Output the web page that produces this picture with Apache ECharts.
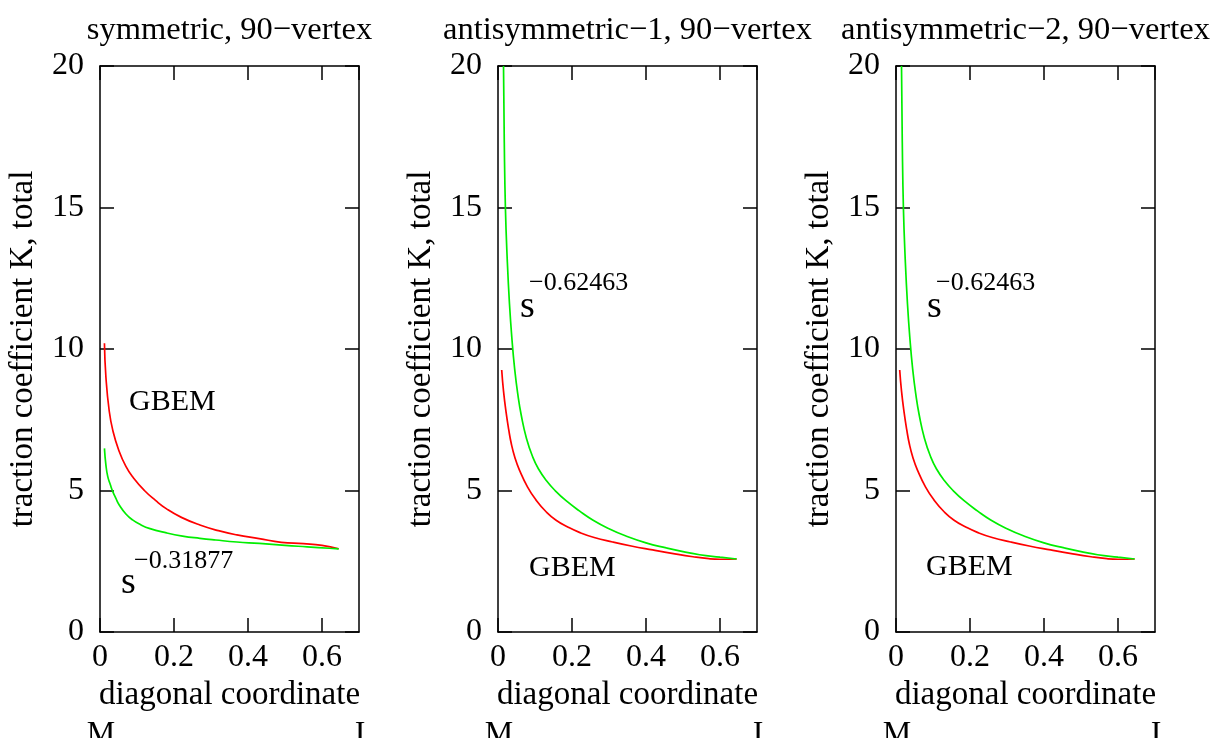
<!DOCTYPE html>
<html>
<head>
<meta charset="utf-8">
<script src="https://cdn.jsdelivr.net/npm/echarts@6/dist/echarts.min.js"></script>
<style>
  html, body { margin: 0; padding: 0; background: #fff; }
  #eChart { width: 1216px; height: 738px; }
</style>
</head>
<body>
<div id="eChart"></div>
<script>
var titles = ['symmetric, 90\u2212vertex', 'antisymmetric\u22121, 90\u2212vertex', 'antisymmetric\u22122, 90\u2212vertex'];
var exponents = ['\u22120.31877', '\u22120.62463', '\u22120.62463'];
var xName = 'diagonal coordinate';
var yName = 'traction coefficient K, total';

// symmetric panel
var symGbemX = [0.012, 0.016, 0.025, 0.035, 0.05, 0.07, 0.09, 0.12, 0.15, 0.18, 0.22, 0.27, 0.32, 0.37, 0.43, 0.49, 0.55, 0.60, 0.645];
var symGbemK = [10.2, 9.0, 7.8, 7.1, 6.45, 5.85, 5.45, 5.0, 4.65, 4.35, 4.05, 3.78, 3.58, 3.43, 3.30, 3.17, 3.12, 3.06, 2.94];
var symFitX = [0.012, 0.016, 0.021, 0.028, 0.034, 0.043, 0.052, 0.07, 0.088, 0.11, 0.133, 0.18, 0.223, 0.27, 0.313, 0.37, 0.431, 0.5, 0.56, 0.62, 0.645];
var symFitK = [6.49, 5.9, 5.49, 5.2, 4.98, 4.72, 4.49, 4.17, 3.96, 3.79, 3.66, 3.50, 3.39, 3.31, 3.25, 3.18, 3.13, 3.06, 3.01, 2.96, 2.94];

// antisymmetric-1 panel
var anti1GbemX = [0.010, 0.015, 0.022, 0.029, 0.036, 0.046, 0.058, 0.08, 0.103, 0.13, 0.157, 0.19, 0.22, 0.26, 0.31, 0.36, 0.418, 0.47, 0.527, 0.57, 0.60, 0.645];
var anti1GbemK = [9.26, 8.5, 7.75, 7.15, 6.65, 6.15, 5.72, 5.12, 4.66, 4.25, 3.95, 3.70, 3.52, 3.34, 3.18, 3.04, 2.90, 2.78, 2.66, 2.59, 2.57, 2.58];
var anti1FitX = [0.0149, 0.017, 0.020, 0.025, 0.031, 0.038, 0.045, 0.053, 0.063, 0.077, 0.094, 0.11, 0.13, 0.155, 0.184, 0.22, 0.256, 0.30, 0.346, 0.40, 0.455, 0.50, 0.545, 0.60, 0.645];
var anti1FitK = [20.0, 17.3, 15.0, 13.15, 11.6, 10.3, 9.3, 8.45, 7.65, 6.84, 6.18, 5.75, 5.36, 4.99, 4.64, 4.28, 3.96, 3.65, 3.39, 3.15, 2.97, 2.84, 2.73, 2.645, 2.58];

// antisymmetric-2 panel reads the same as antisymmetric-1
var anti2GbemX = anti1GbemX;
var anti2GbemK = anti1GbemK;
var anti2FitX = anti1FitX;
var anti2FitK = anti1FitK;

var gridLefts = [100, 498, 896];
var font = 'Liberation Serif';

function pairs(xs, ys) {
  var out = [];
  for (var i = 0; i < xs.length; i++) out.push([xs[i], ys[i]]);
  return out;
}

function makeText(x, y, text, size, align) {
  return {
    type: 'text',
    x: x,
    y: y,
    style: {
      text: text,
      fill: '#000',
      font: size + 'px "' + font + '"',
      align: align || 'left',
      verticalAlign: 'middle'
    }
  };
}

function drawChart() {
  var chart = echarts.init(document.getElementById('eChart'));
  var panels = [
    [symGbemX, symGbemK, symFitX, symFitK],
    [anti1GbemX, anti1GbemK, anti1FitX, anti1FitK],
    [anti2GbemX, anti2GbemK, anti2FitX, anti2FitK]
  ];

  var grid = [], xAxis = [], yAxis = [], series = [], title = [];
  var tick = { show: true, inside: true, length: 14, lineStyle: { color: '#000', width: 1.5 } };
  var line = { show: true, onZero: false, lineStyle: { color: '#000', width: 1.5 } };

  panels.forEach(function (p, i) {
    grid.push({ left: gridLefts[i], top: 66, width: 259, height: 566 });
    title.push({
      text: titles[i],
      left: gridLefts[i] + 129.5,
      top: 14,
      textAlign: 'center',
      padding: 0,
      textStyle: { fontFamily: font, fontSize: 32.5, fontWeight: 'normal', color: '#000' }
    });
    xAxis.push({
      gridIndex: i, type: 'value', position: 'bottom',
      min: 0, max: 0.7, interval: 0.2,
      name: xName, nameLocation: 'middle', nameGap: 47,
      nameTextStyle: { fontFamily: font, fontSize: 33, color: '#000' },
      axisLine: line, axisTick: tick, splitLine: { show: false },
      axisLabel: { fontFamily: font, fontSize: 32, color: '#000', margin: 10, showMaxLabel: false }
    });
    xAxis.push({
      gridIndex: i, type: 'value', position: 'top',
      min: 0, max: 0.7, interval: 0.2,
      axisLine: line, axisTick: tick, splitLine: { show: false },
      axisLabel: { show: false }
    });
    yAxis.push({
      gridIndex: i, type: 'value', position: 'left',
      min: 0, max: 20, interval: 5,
      name: yName, nameLocation: 'middle', nameGap: 60, nameRotate: 90,
      nameTextStyle: { fontFamily: font, fontSize: 33, color: '#000' },
      axisLine: line, axisTick: tick, splitLine: { show: false },
      axisLabel: { fontFamily: font, fontSize: 32, color: '#000', margin: 16 }
    });
    yAxis.push({
      gridIndex: i, type: 'value', position: 'right',
      min: 0, max: 20, interval: 5,
      axisLine: line, axisTick: tick, splitLine: { show: false },
      axisLabel: { show: false }
    });
    series.push({
      name: 'GBEM', type: 'line', xAxisIndex: 2 * i, yAxisIndex: 2 * i,
      showSymbol: false, smooth: 0.5,
      lineStyle: { color: '#ff0000', width: 1.7 },
      data: pairs(p[0], p[1])
    });
    series.push({
      name: 'fit', type: 'line', xAxisIndex: 2 * i, yAxisIndex: 2 * i,
      showSymbol: false, smooth: 0.5,
      lineStyle: { color: '#00ee00', width: 1.7 },
      data: pairs(p[2], p[3])
    });
  });

  var graphic = [
    makeText(129, 402, 'GBEM', 30),
    makeText(121, 583, 's', 38),
    makeText(134, 561, exponents[0], 26),
    makeText(529, 568, 'GBEM', 30),
    makeText(520, 307, 's', 38),
    makeText(529, 283, exponents[1], 26),
    makeText(926, 567, 'GBEM', 30),
    makeText(927, 307, 's', 38),
    makeText(936, 283, exponents[2], 26)
  ];
  gridLefts.forEach(function (l) {
    graphic.push(makeText(l + 1, 735, 'M', 32, 'center'));
    graphic.push(makeText(l + 260, 735, 'I', 32, 'center'));
  });

  chart.setOption({
    animation: false,
    title: title,
    grid: grid,
    xAxis: xAxis,
    yAxis: yAxis,
    series: series,
    graphic: graphic
  });
}

drawChart();
</script>
</body>
</html>
